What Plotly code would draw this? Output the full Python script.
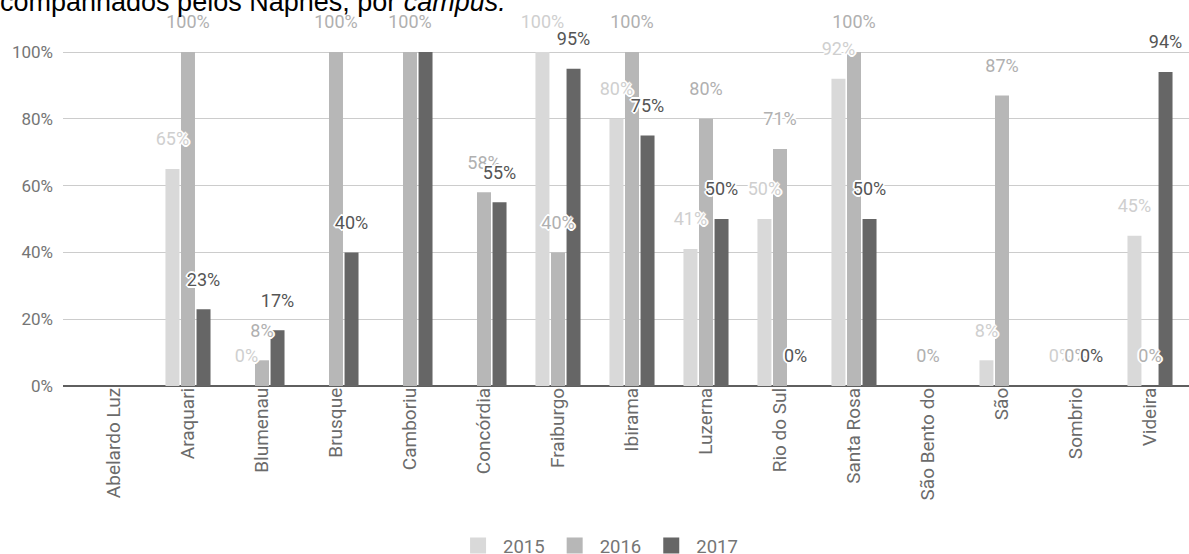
import plotly.graph_objects as go

# ---- data ----
campi = ["Abelardo Luz", "Araquari", "Blumenau", "Brusque", "Camboriu", "Concórdia",
         "Fraiburgo", "Ibirama", "Luzerna", "Rio do Sul", "Santa Rosa", "São Bento do",
         "São", "Sombrio", "Videira"]
anos = ["2015", "2016", "2017"]
v2015 = [None, 65, 0, None, None, None, 100, 80, 41, 50, 92, None, 7.7, 0, 45]
v2016 = [None, 100, 7.7, 100, 100, 58, 40, 100, 80, 71, 100, 0, 87, 0, 0]
v2017 = [None, 23, 16.7, 40, 100, 55, 95, 75, 50, 0, 50, None, None, 0, 94]
# labels the original chart hid (overlapping annotations)
hidden_labels = {("2017", "Camboriu")}
y_ticks = [0, 20, 40, 60, 80, 100]

series = {"2015": v2015, "2016": v2016, "2017": v2017}
bar_colors = {"2015": "#d9d9d9", "2016": "#b7b7b7", "2017": "#666666"}
label_colors = {"2015": "#cfcfcf", "2016": "#b0b0b0", "2017": "#555555"}

FONT = "Roboto, Arial, sans-serif"
HALO = ("2px 0 0 #fff, -2px 0 0 #fff, 0 2px 0 #fff, 0 -2px 0 #fff, "
        "1px 1px 0 #fff, -1px -1px 0 #fff, 1px -1px 0 #fff, -1px 1px 0 #fff")
LABEL_LIFT = 5   # gap (axis units) between a bar's top and its annotation
Y_MAX = 112      # axis headroom so the labels above 100% stay inside the range

fig = go.Figure()

# real bars
for ano in anos:
    fig.add_trace(go.Bar(
        x=campi, y=series[ano], name=ano, offsetgroup=ano, showlegend=False,
        marker=dict(color=bar_colors[ano], line=dict(width=0)),
        hoverinfo="x+y+name",
    ))

# transparent twin bars carrying the labels, drawn on top of every bar,
# lifted above the bar tops like the original annotations
for ano in anos:
    texts, lift = [], []
    for c, v in zip(campi, series[ano]):
        if v is None or (ano, c) in hidden_labels:
            texts.append("")
        else:
            texts.append(f"{v:.0f}%")
        lift.append(None if v is None else LABEL_LIFT)
    fig.add_trace(go.Bar(
        x=campi, y=lift, base=series[ano], name=ano, offsetgroup=ano, showlegend=False,
        marker=dict(color="rgba(0,0,0,0)", line=dict(width=0)),
        text=texts, textposition="outside", constraintext="none",
        cliponaxis=False, hoverinfo="skip",
        outsidetextfont=dict(family=FONT, size=18, color=label_colors[ano], shadow=HALO),
    ))

# legend entries (square swatches)
for ano in anos:
    fig.add_trace(go.Scatter(
        x=[campi[0]], y=[None], name=ano, mode="markers",
        marker=dict(symbol="square", size=16, color=bar_colors[ano]),
        hoverinfo="skip",
    ))

plot_h = 334 * Y_MAX / 100
fig.update_layout(
    width=1189, height=554,
    margin=dict(l=63, r=0, t=386 - plot_h, b=168, autoexpand=False),
    paper_bgcolor="white", plot_bgcolor="white",
    barmode="group", bargap=0.37, bargroupgap=0.1, barcornerradius=2,
    font=dict(family=FONT, size=17, color="#757575"),
    title=dict(
        text="companhados pelos Napnes, por <i>campus.</i>",
        font=dict(family="Arial, Liberation Sans, sans-serif", size=27, color="#000000"),
        xref="container", x=0, xanchor="left",
        yref="container", y=1 - 2 / 554, yanchor="middle",
        pad=dict(l=0, t=0, b=0, r=0),
    ),
    xaxis=dict(
        type="category", range=[-0.689, 14.527],
        tickangle=-90, showgrid=False, ticks="", showline=False,
        ticklabelstandoff=-3,
        tickfont=dict(family=FONT, size=19, color="#6b6b6b"),
    ),
    yaxis=dict(
        range=[0, Y_MAX], tickvals=y_ticks, ticktext=[f"{t}%" for t in y_ticks],
        showgrid=True, gridcolor="#cccccc", gridwidth=1,
        zeroline=True, zerolinecolor="#5f5f5f", zerolinewidth=2,
        ticks="", ticklabelstandoff=9, showline=False,
        tickfont=dict(family=FONT, size=17, color="#757575"),
    ),
    legend=dict(
        orientation="h", xref="container", x=0.503, xanchor="center",
        yref="paper", y=-(546 - 386) / plot_h, yanchor="middle",
        font=dict(family=FONT, size=18.5, color="#757575"),
        itemwidth=40, traceorder="normal",
    ),
    showlegend=True,
)

fig.write_html("out.html")
